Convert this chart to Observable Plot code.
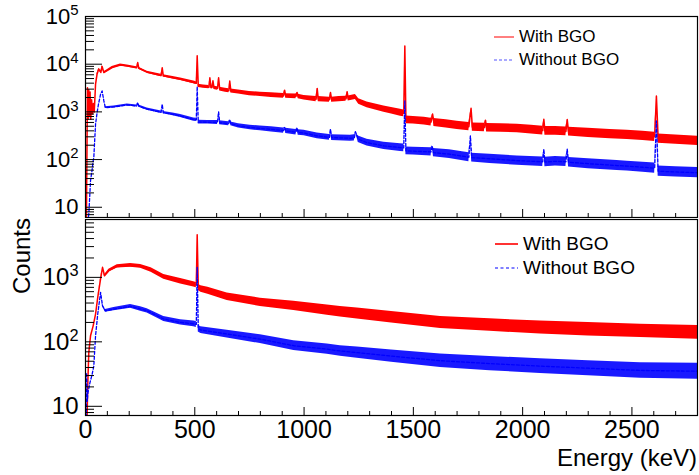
<!DOCTYPE html>
<html>
<head>
<meta charset="utf-8">
<script src="https://cdn.jsdelivr.net/npm/d3@7"></script>
<script src="https://cdn.jsdelivr.net/npm/@observablehq/plot@0.6"></script>
<style>
  body { margin: 0; background: white; font-family: "Liberation Sans", Arial, sans-serif; }
  #wrap { position: relative; width: 699px; height: 475px; overflow: hidden; }
  .leg { position: absolute; display: flex; align-items: center; white-space: nowrap; color: #000; }
  .leg svg { display: block; margin-right: 5px; }
  .abs { position: absolute; white-space: nowrap; color: #000; }
</style>
</head>
<body>
<div id="wrap">
  <div id="top"></div>
  <div id="bot"></div>
</div>
<script>
// ---- axis ticks / labels ----
const xTicks = [0, 500, 1000, 1500, 2000, 2500];
const xTickLabels = ["0", "500", "1000", "1500", "2000", "2500"];
const topYTicks = [10, 100, 1000, 10000, 100000];
const topYLabels = ["10", "10^2", "10^3", "10^4", "10^5"];
const botYTicks = [10, 100, 1000];
const botYLabels = ["10", "10^2", "10^3"];
const seriesNames = ["With BGO", "Without BGO"];
const xTitle = "Energy (keV)";
const yTitle = "Counts";

// ---- data: [energy keV, counts, relative noise band] ----
const topWith = [[4,4,1],[9,3200,1],[12,700,1],[15,2900,1],[18,800,1],[21,2600,1],[24,700,1],[28,1800,1],[32,900,1],[36,1500,1],[40,1000,1],[46,3800,1],[53,6200,1.04],[61,7900,1.04],[70,6700,1.04],[76,9000,1.04],[84,6700,1.04],[99,7300,1.05],[122,8500,1.05],[160,9600,1.05],[191,9200,1.05],[234,8400,1.05],[239,10800,1],[244,8200,1.05],[282,6800,1.05],[346,5800,1.06],[351,8400,1],[356,5700,1.06],[400,5200,1.06],[435,4850,1.06],[495,4150,1.07],[507,4000,1.07],[511,15000,1],[516,3500,1.08],[540,3400,1.08],[565,3300,1.08],[569,5200,1],[574,3280,1.08],[579,3250,1.08],[583,4500,1],[588,3200,1.08],[604,3100,1.09],[609,5200,1],[614,3000,1.09],[640,2850,1.1],[656,2780,1.1],[660,4450,1],[665,2750,1.1],[700,2600,1.1],[750,2420,1.11],[800,2330,1.11],[850,2250,1.12],[906,2160,1.12],[911,2850,1],[916,2150,1.12],[963,2120,1.12],[968,2540,1],[973,2100,1.12],[1000,1980,1.12],[1055,1850,1.13],[1060,3100,1],[1065,1850,1.13],[1116,1800,1.13],[1121,2540,1],[1126,1800,1.13],[1160,1850,1.13],[1192,1880,1.13],[1197,2650,1],[1202,1900,1.13],[1235,2050,1.13],[1250,1650,1.14],[1288,1400,1.15],[1365,1140,1.16],[1400,1050,1.17],[1441,960,1.18],[1456,930,1.18],[1461,24000,1],[1466,680,1.2],[1500,670,1.2],[1550,640,1.2],[1581,610,1.21],[1588,900,1],[1594,600,1.21],[1650,560,1.22],[1700,520,1.22],[1754,490,1.22],[1764,1190,1],[1770,480,1.22],[1825,470,1.23],[1830,670,1],[1835,465,1.23],[1900,460,1.23],[1975,450,1.23],[2040,425,1.24],[2092,405,1.24],[2097,700,1],[2102,400,1.24],[2150,400,1.24],[2198,390,1.24],[2204,690,1],[2210,385,1.24],[2300,365,1.25],[2400,340,1.25],[2478,330,1.25],[2550,315,1.25],[2604,300,1.25],[2612,2150,1],[2620,275,1.25],[2700,262,1.25],[2800,248,1.25]];

const topWithout = [[6,4,1],[15,7,1],[23,36,1],[30,60,1],[35,94,1],[38,110,1],[42,250,1],[46,550,1],[53,965,1],[60,1500,1],[69,2350,1],[76,2750,1],[84,1700,1],[91,1230,1.04],[130,1270,1.05],[191,1400,1.05],[234,1330,1.05],[239,1570,1],[244,1320,1.05],[282,1140,1.06],[346,980,1.06],[351,1450,1],[356,965,1.06],[400,890,1.07],[435,820,1.07],[495,690,1.08],[507,680,1.08],[511,3400,1],[516,610,1.09],[560,605,1.09],[604,600,1.1],[609,1000,1],[614,590,1.1],[655,565,1.1],[660,690,1],[665,560,1.1],[700,510,1.11],[753,470,1.12],[800,450,1.12],[850,430,1.13],[906,405,1.13],[911,470,1],[916,400,1.13],[963,375,1.14],[968,465,1],[973,370,1.14],[1000,360,1.14],[1060,314,1.15],[1116,292,1.15],[1121,435,1],[1126,290,1.15],[1212,280,1.16],[1230,285,1.16],[1235,385,1],[1248,268,1.17],[1288,226,1.18],[1365,194,1.19],[1441,178,1.2],[1456,176,1.2],[1461,1700,1],[1466,152,1.21],[1500,150,1.21],[1581,145,1.22],[1586,194,1],[1592,140,1.22],[1665,130,1.23],[1754,112,1.24],[1761,315,1],[1767,110,1.24],[1850,104,1.25],[1975,95,1.25],[2092,90,1.26],[2097,165,1],[2102,89,1.26],[2150,92,1.26],[2198,90,1.26],[2204,165,1],[2210,88,1.26],[2300,82,1.27],[2432,75,1.27],[2478,73,1.27],[2550,69,1.28],[2604,66,1.28],[2612,650,1],[2620,57,1.28],[2700,55,1.28],[2800,53,1.28]];

const botWith = [[6,4,1],[10,20,1],[15,68,1],[23,124,1],[35,177,1],[46,270,1],[56,490,1],[69,945,1.03],[78,1430,1],[87,1060,1.04],[107,1270,1.05],[145,1480,1.06],[206,1530,1.07],[252,1480,1.07],[300,1300,1.08],[358,1020,1.09],[435,870,1.1],[495,780,1.1],[507,760,1.1],[511,4600,1],[516,700,1.12],[528,660,1.12],[560,620,1.13],[648,500,1.14],[800,410,1.16],[953,360,1.18],[1106,310,1.2],[1166,293,1.21],[1243,275,1.22],[1400,240,1.23],[1624,200,1.24],[1850,182,1.25],[2081,167,1.26],[2300,157,1.27],[2539,148,1.27],[2800,140,1.28]];

const botWithout = [[3,4,1],[5,33,1],[8,12,1],[11,16,1],[20,23,1],[30,31,1],[38,42,1],[46,124,1],[56,270,1],[69,585,1],[78,363,1.04],[91,303,1.05],[130,322,1.06],[206,355,1.07],[252,323,1.08],[282,303,1.08],[343,240,1.09],[358,226,1.09],[435,200,1.1],[495,190,1.11],[507,186,1.11],[511,1430,1],[516,160,1.13],[528,152,1.13],[648,132,1.15],[800,110,1.17],[953,87,1.19],[1106,77,1.2],[1166,72,1.21],[1243,68,1.22],[1400,60,1.24],[1624,51,1.27],[1850,46,1.29],[2081,42,1.3],[2300,39,1.31],[2539,36,1.32],[2800,35,1.33]];

const RED = "#ff0000", BLUE = "#0000ff";
const FONT = "'Liberation Sans', Arial, Helvetica, sans-serif";

function rec(d) { return {E: d[0], c: d[1], lo: d[1] / d[2], hi: d[1] * d[2]}; }

function supers(svg) {
  svg.querySelectorAll("text").forEach(t => {
    const m = /^10\^(\d+)$/.exec(t.textContent);
    if (m) {
      t.textContent = "10";
      const ts = document.createElementNS("http://www.w3.org/2000/svg", "tspan");
      ts.setAttribute("dy", "-0.55em");
      ts.setAttribute("font-size", "0.68em");
      ts.textContent = m[1];
      t.appendChild(ts);
    }
  });
}

function panel({withData, withoutData, yDomain, yTicks, yLabels, height, marginTop, marginBottom, ySize, showX}) {
  const minor = [];
  for (let e = 0; e <= 5; e++) for (let m = 2; m <= 9; m++) {
    const v = m * Math.pow(10, e);
    if (v >= yDomain[0] && v <= yDomain[1]) minor.push(v);
  }
  const xMinor = d3.range(0, 2801, 100).filter(v => v % 500 !== 0);
  const ylab = new Map(yTicks.map((t, i) => [t, yLabels[i]]));
  const xlab = new Map(xTicks.map((t, i) => [t, xTickLabels[i]]));
  const r1 = withData.map(rec), r2 = withoutData.map(rec);
  const svg = Plot.plot({
    width: 699, height, marginLeft: 85, marginRight: 2, marginTop, marginBottom,
    x: {domain: [0, 2800]},
    y: {type: "log", domain: yDomain},
    style: {fontFamily: FONT, background: "white", color: "black"},
    marks: [
      Plot.areaY(r1, {x: "E", y1: "lo", y2: "hi", fill: RED, clip: true}),
      Plot.lineY(r1, {x: "E", y: "c", stroke: RED, strokeWidth: 1.5, clip: true}),
      Plot.areaY(r2, {x: "E", y1: "lo", y2: "hi", fill: BLUE, fillOpacity: 0.9, clip: true}),
      Plot.lineY(r2, {x: "E", y: "c", stroke: BLUE, strokeWidth: 1.3, strokeDasharray: "3,2", clip: true}),
      Plot.axisY({ticks: yTicks, tickSize: -17, tickFormat: () => "", label: null}),
      Plot.axisY({ticks: minor, tickSize: -9, tickFormat: () => "", label: null}),
      Plot.axisY({ticks: yTicks, tickSize: 0, tickPadding: 7, tickFormat: d => ylab.get(d), fontSize: ySize, label: null}),
      Plot.axisX({ticks: xTicks, tickSize: -8, tickFormat: () => "", label: null}),
      Plot.axisX({ticks: xMinor, tickSize: -4, tickFormat: () => "", label: null}),
      showX ? Plot.axisX({ticks: xTicks, tickSize: 0, tickPadding: 5, tickFormat: d => xlab.get(d), fontSize: 25, label: null}) : null,
      Plot.frame({stroke: "black", strokeWidth: 1.2})
    ]
  });
  supers(svg);
  return svg;
}

document.getElementById("top").appendChild(panel({
  withData: topWith, withoutData: topWithout, yDomain: [6.1, 100000],
  yTicks: topYTicks, yLabels: topYLabels, height: 218, marginTop: 16, marginBottom: 1, ySize: 22, showX: false
}));
document.getElementById("bot").appendChild(panel({
  withData: botWith, withoutData: botWithout, yDomain: [7.2, 7900],
  yTicks: botYTicks, yLabels: botYLabels, height: 257, marginTop: 1, marginBottom: 60, ySize: 24, showX: true
}));

// ---- legends & titles (HTML overlay) ----
const wrap = document.getElementById("wrap");
function legend(x, cy, w, size, label, color, dash, sw) {
  const d = document.createElement("div");
  d.className = "leg";
  const lh = 22;
  d.style.left = x + "px";
  d.style.top = (cy - lh / 2) + "px";
  d.style.height = lh + "px";
  d.style.fontSize = size + "px";
  d.style.fontFamily = FONT;
  d.innerHTML = `<svg width="${w}" height="4"><line x1="0" x2="${w}" y1="2" y2="2" stroke="${color}" stroke-width="${sw}" ${dash ? `stroke-dasharray="${dash}"` : ""}/></svg>`;
  const s = document.createElement("span");
  s.textContent = label;
  d.appendChild(s);
  wrap.appendChild(d);
}
legend(494, 36.5, 20, 17, seriesNames[0], RED, null, 1);
legend(494, 60, 20, 17, seriesNames[1], "#5555ff", "3,2", 1.2);
legend(495, 244, 23, 19, seriesNames[0], RED, null, 1.6);
legend(495, 267.5, 23, 19, seriesNames[1], BLUE, "3,2.5", 1.2);

const xt = document.createElement("div");
xt.className = "abs";
xt.textContent = xTitle;
xt.style.cssText += `right:2px; top:444px; font-size:24px; font-family:${FONT}; line-height:28px;`;
wrap.appendChild(xt);

const yt = document.createElement("div");
yt.className = "abs";
yt.textContent = yTitle;
yt.style.cssText += `left:22px; top:256px; font-size:24px; font-family:${FONT}; line-height:28px; transform: translate(-50%, -50%) rotate(-90deg);`;
wrap.appendChild(yt);
</script>
</body>
</html>
